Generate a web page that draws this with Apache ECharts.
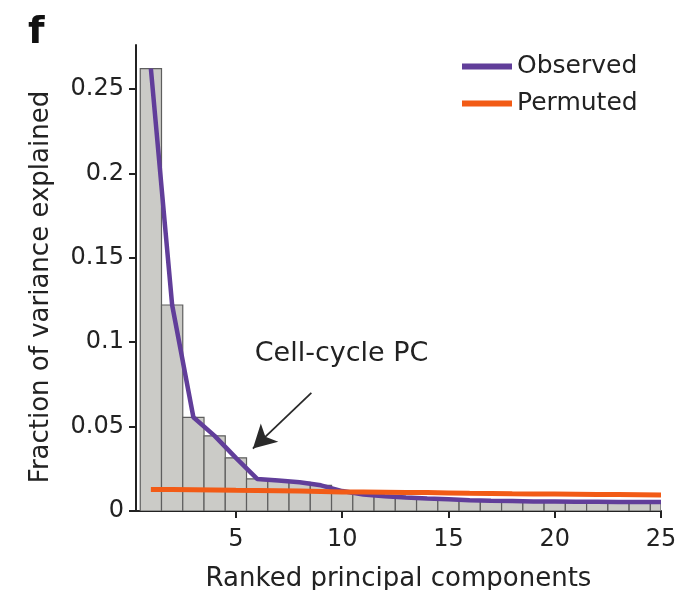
<!DOCTYPE html>
<html>
<head>
<meta charset="utf-8">
<script src="https://cdn.jsdelivr.net/npm/echarts@6/dist/echarts.min.js"></script>
<style>
  html, body { margin: 0; padding: 0; background: #fff; }
  #main { width: 687px; height: 590px; }
</style>
</head>
<body>
<div id="main"></div>
<script>
// ranked PCs and variance fractions
var ranks = [1, 2, 3, 4, 5, 6, 7, 8, 9, 10, 11, 12, 13, 14, 15, 16, 17, 18, 19, 20, 21, 22, 23, 24, 25];
var observed = [0.262, 0.122, 0.0555, 0.0445, 0.0315, 0.019, 0.018, 0.017, 0.0152, 0.0118,
  0.0098, 0.0088, 0.0080, 0.0074, 0.0069, 0.0064, 0.0061, 0.0059, 0.0057, 0.0056,
  0.0055, 0.0055, 0.0054, 0.0054, 0.0054];
var permuted = [0.0128, 0.0127, 0.0126, 0.0125, 0.0123, 0.0122, 0.0120, 0.0118, 0.0116, 0.0113,
  0.0112, 0.0111, 0.0110, 0.0109, 0.0107, 0.0105, 0.0104, 0.0102, 0.0101, 0.0100,
  0.0099, 0.0098, 0.0097, 0.0096, 0.0095];
var xTicks = [5, 10, 15, 20, 25];
var yTicks = [0, 0.05, 0.1, 0.15, 0.2, 0.25];
// annotation: label spot and arrow (tail -> tip), in data units
var noteText = 'Cell-cycle PC';
var notePos = [9.97, 0.093];
var arrowFrom = [8.55, 0.070];
var arrowTo = [5.8, 0.037];

var FONT = 'DejaVu Sans';
var INK = '#222';

function pairs(xs, ys) {
  return xs.map(function (x, i) { return [x, ys[i]]; });
}

// histogram-like bars, one unit wide, clipped to the plot area
function renderBar(params, api) {
  var x = api.value(0), y = api.value(1);
  var p0 = api.coord([x - 0.5, y]);
  var p1 = api.coord([x + 0.5, 0]);
  var cs = params.coordSys;
  var rect = echarts.graphic.clipRectByRect(
    { x: p0[0], y: p0[1], width: p1[0] - p0[0], height: p1[1] - p0[1] },
    { x: cs.x, y: cs.y, width: cs.width, height: cs.height }
  );
  if (!rect) return;
  return {
    type: 'rect', shape: rect,
    style: { fill: '#cbcbc7', stroke: '#5e5e5e', lineWidth: 1.2 }
  };
}

var chart = echarts.init(document.getElementById('main'), null, { renderer: 'canvas' });

var option = {
  animation: false,
  textStyle: { fontFamily: FONT, color: INK },
  grid: { left: 136, right: 26, top: 45, bottom: 79, outerBoundsMode: 'none', containLabel: false },
  graphic: [{
    type: 'text', left: 28, top: 14,
    style: { text: 'f', fontFamily: FONT, fontWeight: 'bold', fontSize: 38, fill: '#111' }
  }],
  legend: {
    orient: 'vertical', left: 457, top: 49, itemGap: 12,
    itemWidth: 50, itemHeight: 6, icon: 'rect',
    textStyle: { fontFamily: FONT, fontSize: 25, color: INK, lineHeight: 25 },
    data: ['Observed', 'Permuted']
  },
  xAxis: {
    type: 'value', min: 0.3, max: 25,
    name: 'Ranked principal components', nameLocation: 'middle', nameGap: 55,
    nameTextStyle: { fontFamily: FONT, fontSize: 26, color: INK },
    splitLine: { show: false },
    axisLine: { lineStyle: { color: INK, width: 2 } },
    axisTick: { length: 7, lineStyle: { color: INK, width: 2 }, customValues: xTicks },
    axisLabel: { fontFamily: FONT, fontSize: 24, color: INK, margin: 17, customValues: xTicks }
  },
  yAxis: {
    type: 'value', min: 0, max: 0.276,
    name: 'Fraction of variance explained', nameLocation: 'middle', nameGap: 82,
    nameTextStyle: { fontFamily: FONT, fontSize: 26, color: INK, padding: [0, 18, 0, 0] },
    splitLine: { show: false },
    axisLine: { lineStyle: { color: INK, width: 2 } },
    axisTick: { length: 7, lineStyle: { color: INK, width: 2 }, customValues: yTicks },
    axisLabel: { fontFamily: FONT, fontSize: 24, color: INK, margin: 12, customValues: yTicks }
  },
  series: [
    {
      name: 'bars', type: 'custom', z: 1, clip: true,
      renderItem: renderBar,
      encode: { x: 0, y: 1 },
      data: pairs(ranks, observed)
    },
    {
      name: 'Observed', type: 'line', z: 3, showSymbol: false,
      data: pairs(ranks, observed),
      lineStyle: { color: '#613e9a', width: 4.5 },
      itemStyle: { color: '#613e9a' },
      markLine: {
        silent: true, symbol: ['none', 'arrow'], symbolSize: [19, 23],
        lineStyle: { color: '#2a2a2a', width: 1.8, type: 'solid' },
        itemStyle: { color: '#111' },
        label: { show: false },
        data: [[{ coord: arrowFrom }, { coord: arrowTo }]]
      },
      markPoint: {
        silent: true, symbol: 'circle', symbolSize: 0,
        label: { show: true, position: 'inside', formatter: noteText,
          fontFamily: FONT, fontSize: 27, color: INK },
        data: [{ coord: notePos }]
      }
    },
    {
      name: 'Permuted', type: 'line', z: 4, showSymbol: false,
      data: pairs(ranks, permuted),
      lineStyle: { color: '#f25b16', width: 5 },
      itemStyle: { color: '#f25b16' }
    }
  ]
};

chart.setOption(option);
</script>
</body>
</html>
